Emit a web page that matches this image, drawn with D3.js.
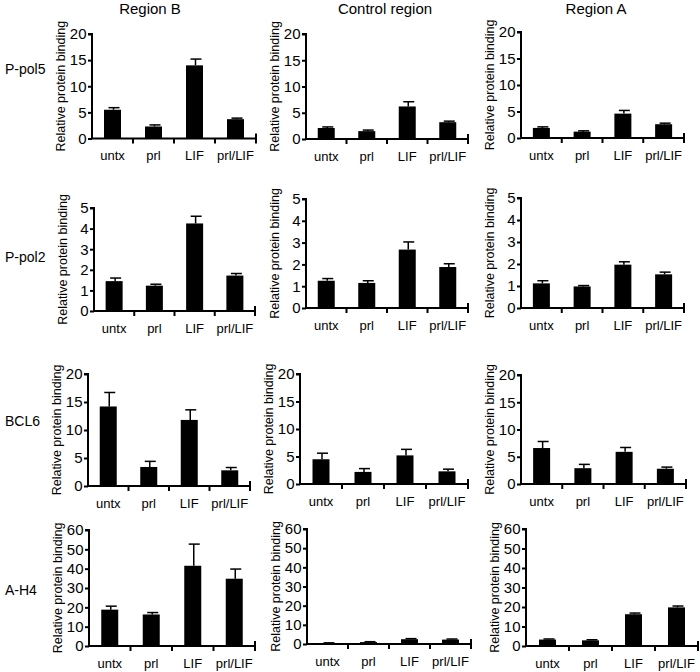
<!DOCTYPE html>
<html><head><meta charset="utf-8">
<script src="https://cdn.jsdelivr.net/npm/d3@7"></script>
<style>body{margin:0;background:#fff}svg{display:block}text{font-family:"Liberation Sans",Arial,sans-serif}</style>
</head><body>
<script>
const categories = ["untx","prl","LIF","prl/LIF"];
const regions = ["Region B","Control region","Region A"];
const targets = ["P-pol5","P-pol2","BCL6","A-H4"];
const yMax = [20, 5, 20, 60];
const yTicks = [[0,5,10,15,20],[0,1,2,3,4,5],[0,5,10,15,20],[0,10,20,30,40,50,60]];
// values[target][region][category]
const ppol5Values = [[5.5,2.3,14.0,3.7],[2.1,1.5,6.2,3.2],[1.9,1.2,4.6,2.6]];
const ppol5Errors = [[0.4,0.3,1.2,0.2],[0.2,0.2,0.9,0.2],[0.2,0.15,0.6,0.2]];
const ppol2Values = [[1.45,1.23,4.25,1.72],[1.25,1.15,2.68,1.88],[1.12,0.98,1.97,1.53]];
const ppol2Errors = [[0.15,0.07,0.35,0.1],[0.1,0.1,0.35,0.15],[0.12,0.04,0.13,0.1]];
const bcl6Values = [[14.2,3.4,11.8,2.8],[4.5,2.2,5.2,2.3],[6.6,2.9,5.9,2.8]];
const bcl6Errors = [[2.5,1.0,1.8,0.5],[1.1,0.6,1.1,0.4],[1.2,0.7,0.8,0.3]];
const ah4Values = [[18.8,16.3,41.5,34.8],[0.5,1.0,2.5,2.3],[3.3,2.9,16.3,19.8]];
const ah4Errors = [[1.8,1.0,11.2,5.0],[0.1,0.2,0.3,0.3],[0.3,0.3,0.6,0.7]];
const allValues = [ppol5Values, ppol2Values, bcl6Values, ah4Values];
const allErrors = [ppol5Errors, ppol2Errors, bcl6Errors, ah4Errors];

// layout: [axisX, top, bottom, width]
const layout = [
  [[92,34,138.5,164],[306,34,139,162],[521,32,138,163]],
  [[94,208,311,161],[306,199,308,162],[521,198,308,163]],
  [[88,374,486,162],[300,374,484,168],[521,375,484,165]],
  [[89,530,646,166],[307,529,644,164],[526,529,646,172]]
];
const rowLabelY = [74, 262, 426, 595];
const colTitleX = [150, 385, 596];

const W = 700, H = 672;
const svg = d3.select("body").append("svg").attr("width", W).attr("height", H);

regions.forEach((r,i) => {
  svg.append("text").attr("x", colTitleX[i]).attr("y", 14).attr("text-anchor","middle")
    .attr("font-size", 15).text(r);
});
targets.forEach((t,i) => {
  svg.append("text").attr("x", 5).attr("y", rowLabelY[i]).attr("font-size", 14).text(t);
});

targets.forEach((t, ti) => {
  regions.forEach((r, ri) => {
    const [ax, top, bottom, w] = layout[ti][ri];
    const g = svg.append("g");
    const x = d3.scaleBand().domain(categories).range([ax, ax + w]).paddingInner(0.58).paddingOuter(0.29);
    const y = d3.scaleLinear().domain([0, yMax[ti]]).range([bottom, top]);
    const vals = allValues[ti][ri], errs = allErrors[ti][ri];
    const bw = 17;
    categories.forEach((c, ci) => {
      const cx = x(c) + x.bandwidth()/2;
      const v = vals[ci], e = errs[ci];
      g.append("rect").attr("x", cx - bw/2).attr("width", bw)
        .attr("y", y(v)).attr("height", y(0) - y(v)).attr("fill", "#000");
      g.append("line").attr("x1", cx+1).attr("x2", cx+1).attr("y1", y(v)).attr("y2", y(v+e))
        .attr("stroke","#000").attr("stroke-width",1.5);
      g.append("line").attr("x1", cx-4).attr("x2", cx+7).attr("y1", y(v+e)).attr("y2", y(v+e))
        .attr("stroke","#000").attr("stroke-width",1.5);
    });
    // y axis
    const yAxis = d3.axisLeft(y).tickValues(yTicks[ti]).tickFormat(d3.format("d")).tickSize(4).tickPadding(1.5);
    const ya = g.append("g").attr("transform", `translate(${ax},0)`).call(yAxis);
    ya.select(".domain").attr("stroke-width", 2).attr("d", `M-4,${top}H0V${bottom}`);
    ya.selectAll(".tick line").attr("stroke-width", 2);
    ya.selectAll("text").attr("font-size", 15).attr("font-family", '"Liberation Sans",Arial,sans-serif');
    // x axis: ticks at band boundaries
    const step = w / 4;
    const xa = g.append("g");
    xa.append("line").attr("x1", ax-1).attr("x2", ax + w).attr("y1", bottom).attr("y2", bottom)
      .attr("stroke","#000").attr("stroke-width", 2);
    d3.range(1,5).forEach(k => {
      xa.append("line").attr("x1", ax + k*step).attr("x2", ax + k*step)
        .attr("y1", k===4 ? bottom-5 : bottom).attr("y2", bottom + 5)
        .attr("stroke","#000").attr("stroke-width", 2);
    });
    categories.forEach(c => {
      xa.append("text").attr("x", x(c) + x.bandwidth()/2).attr("y", bottom + 21.5)
        .attr("text-anchor","middle").attr("font-size", 13).text(c);
    });
    // y title
    g.append("text").attr("transform", `translate(${ax-27},${(top+bottom)/2}) rotate(-90)`)
      .attr("text-anchor","middle").attr("font-size", 12.5).text("Relative protein binding");
  });
});
</script>
</body></html>
